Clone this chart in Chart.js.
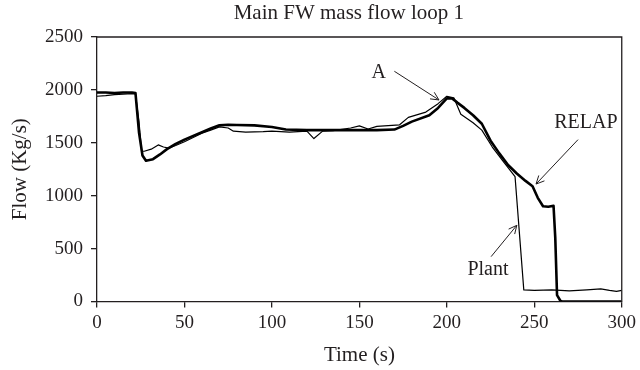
<!DOCTYPE html>
<html>
<head>
<meta charset="utf-8">
<script src="https://cdn.jsdelivr.net/npm/chart.js@4/dist/chart.umd.min.js"></script>
<style>
  html, body { margin: 0; padding: 0; background: #fff; }
  #wrap { width: 640px; height: 370px; }
</style>
</head>
<body>
<div id="wrap"><canvas id="myChart" width="640" height="370"></canvas></div>
<script>
// Time (s) and flow (Kg/s)
const relapTime = [0, 5, 10, 15, 20, 22, 24, 26, 28, 32, 36, 40, 45, 50, 55, 60, 65, 70, 75, 80, 90, 100, 108, 120, 140, 160, 170, 175, 180, 190, 195, 200, 203, 206, 210, 215, 220, 225, 230, 235, 240, 245, 249, 252, 255, 258, 261, 262, 263, 265, 266, 300];
const relapFlow = [1975, 1975, 1970, 1975, 1975, 1970, 1600, 1380, 1330, 1345, 1390, 1440, 1490, 1530, 1565, 1600, 1635, 1665, 1670, 1668, 1665, 1650, 1625, 1620, 1620, 1620, 1625, 1660, 1700, 1760, 1830, 1920, 1920, 1880, 1830, 1760, 1680, 1520, 1400, 1290, 1210, 1140, 1090, 980, 900, 895, 905, 600, 60, 5, 0, 0];

const plantTime = [0, 5, 10, 15, 20, 22, 24, 25.5, 27, 31, 35, 38, 41, 45, 50, 55, 60, 65, 70, 75, 78, 85, 95, 100, 110, 120, 124, 129, 135, 145, 150, 155, 160, 173, 178, 188, 195, 200, 204, 208, 215, 220, 226, 232, 239, 244, 250, 260, 270, 280, 288, 293, 297, 300];
const plantFlow = [1940, 1945, 1955, 1960, 1965, 1960, 1700, 1420, 1420, 1440, 1480, 1460, 1450, 1475, 1510, 1550, 1590, 1620, 1650, 1640, 1610, 1600, 1605, 1610, 1600, 1610, 1540, 1610, 1615, 1640, 1660, 1630, 1655, 1670, 1740, 1790, 1870, 1940, 1925, 1770, 1690, 1620, 1460, 1330, 1180, 110, 105, 110, 100, 110, 120, 105, 95, 105];

const xTicks = [0, 50, 100, 150, 200, 250, 300];
const yTicks = [0, 500, 1000, 1500, 2000, 2500];

const chartTitle = 'Main FW mass flow loop 1';

// labels with arrows: text at [t, flow], arrow from -> to in data units
const notes = [
  { text: 'A', at: [161, 2160], from: [170, 2176], to: [195.5, 1905] },
  { text: 'RELAP', at: [279.5, 1690], from: [275, 1530], to: [251, 1110] },
  { text: 'Plant', at: [223.5, 300], from: [225.3, 424], to: [240, 720] }
];

const serif = "'Liberation Serif', 'DejaVu Serif', serif";
const ink = '#231f20';

function toPoints(ts, vs) {
  return ts.map((t, i) => ({ x: t, y: vs[i] }));
}

// closes the box, draws the title and the notes
const frameAndNotes = {
  id: 'frameAndNotes',
  afterDatasetsDraw(chart) {
    const ctx = chart.ctx;
    const a = chart.chartArea;
    const xs = chart.scales.x;
    const ys = chart.scales.y;
    ctx.save();
    ctx.strokeStyle = ink;
    ctx.lineWidth = 1.3;
    ctx.beginPath();
    ctx.moveTo(a.left, a.top);
    ctx.lineTo(a.right, a.top);
    ctx.lineTo(a.right, a.bottom);
    ctx.stroke();

    ctx.fillStyle = ink;
    ctx.textAlign = 'center';
    ctx.textBaseline = 'middle';
    ctx.font = '21px ' + serif;
    ctx.fillText(chartTitle, a.left + (a.right - a.left) * 0.48, 13);

    ctx.font = '20px ' + serif;
    ctx.lineWidth = 1;
    notes.forEach(function (n) {
      ctx.fillText(n.text, xs.getPixelForValue(n.at[0]), ys.getPixelForValue(n.at[1]));
      const x1 = xs.getPixelForValue(n.from[0]), y1 = ys.getPixelForValue(n.from[1]);
      const x2 = xs.getPixelForValue(n.to[0]), y2 = ys.getPixelForValue(n.to[1]);
      const ang = Math.atan2(y2 - y1, x2 - x1);
      ctx.beginPath();
      ctx.moveTo(x1, y1);
      ctx.lineTo(x2, y2);
      ctx.moveTo(x2 - 9 * Math.cos(ang - 0.45), y2 - 9 * Math.sin(ang - 0.45));
      ctx.lineTo(x2, y2);
      ctx.lineTo(x2 - 9 * Math.cos(ang + 0.45), y2 - 9 * Math.sin(ang + 0.45));
      ctx.stroke();
    });
    ctx.restore();
  }
};

const ctx = document.getElementById('myChart').getContext('2d');

new Chart(ctx, {
  type: 'line',
  data: {
    datasets: [
      {
        label: 'RELAP',
        data: toPoints(relapTime, relapFlow),
        borderColor: '#000',
        borderWidth: 2.6,
        pointRadius: 0,
        tension: 0,
        borderJoinStyle: 'round',
        order: 0
      },
      {
        label: 'Plant',
        data: toPoints(plantTime, plantFlow),
        borderColor: '#000',
        borderWidth: 1.2,
        pointRadius: 0,
        tension: 0,
        borderJoinStyle: 'round',
        order: 1
      }
    ]
  },
  options: {
    responsive: false,
    animation: false,
    devicePixelRatio: 1,
    layout: { padding: { left: 0, right: 2, top: 37, bottom: 0 } },
    plugins: {
      legend: { display: false },
      tooltip: { enabled: false },
      title: { display: false }
    },
    scales: {
      x: {
        type: 'linear',
        min: 0,
        max: 300,
        afterBuildTicks: function (scale) {
          scale.ticks = xTicks.map(v => ({ value: v }));
        },
        afterFit: function (scale) { scale.height = 68.5; },
        grid: { drawOnChartArea: false, drawTicks: true, tickLength: 6, color: ink, lineWidth: 1.3 },
        border: { display: true, color: ink, width: 1.3 },
        ticks: {
          color: ink, padding: 4, maxRotation: 0,
          font: { family: serif, size: 19 },
          callback: v => String(v)
        },
        title: { display: true, text: 'Time (s)', color: ink, font: { family: serif, size: 21 }, padding: { top: 2, bottom: 2 } }
      },
      y: {
        type: 'linear',
        min: 0,
        max: 2500,
        afterBuildTicks: function (scale) {
          scale.ticks = yTicks.map(v => ({ value: v }));
        },
        afterFit: function (scale) { scale.width = 97; },
        grid: { drawOnChartArea: false, drawTicks: true, tickLength: 6, color: ink, lineWidth: 1.3 },
        border: { display: true, color: ink, width: 1.3 },
        ticks: {
          color: ink, padding: 8,
          font: { family: serif, size: 19 },
          callback: v => String(v)
        },
        title: { display: true, text: 'Flow (Kg/s)', color: ink, font: { family: serif, size: 21 }, padding: { top: 8, bottom: 4 } }
      }
    }
  },
  plugins: [frameAndNotes]
});
</script>
</body>
</html>
